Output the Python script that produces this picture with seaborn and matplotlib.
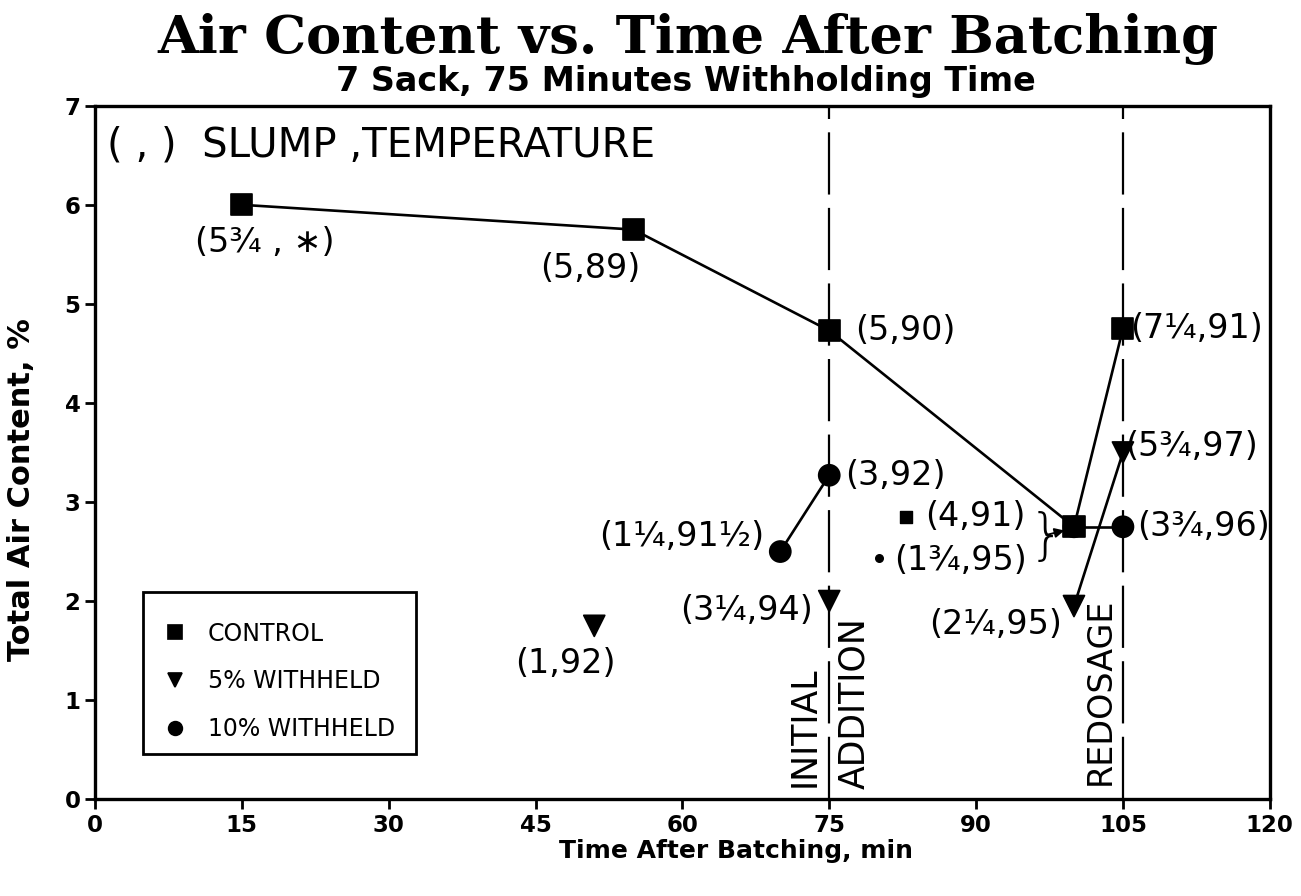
import matplotlib
matplotlib.use('AGG')

import matplotlib.pyplot as plt
import seaborn as sns
import pandas as pd
from matplotlib.patches import Rectangle

# air content readings (time in min, total air %)
time_ctrl = [15, 55, 75, 100, 105]
air_ctrl = [6.0, 5.75, 4.73, 2.75, 4.75]
seg_ctrl = [0, 0, 0, 0, 0]

time_5 = [51, 75, 100, 105]
air_5 = [1.75, 2.0, 1.95, 3.5]
seg_5 = [0, 1, 2, 2]

time_10 = [70, 75, 100, 105]
air_10 = [2.5, 3.27, 2.75, 2.75]
seg_10 = [0, 0, 1, 1]

# (slump, temperature) labels
lab_ctrl = ["(5\u00be , \u2217)", "(5,89)", "(5,90)", None, "(7\u00bc,91)"]
lab_5 = ["(1,92)", "(3\u00bc,94)", "(2\u00bc,95)", "(5\u00be,97)"]
lab_10 = ["(1\u00bc,91\u00bd)", "(3,92)", None, "(3\u00be,96)"]

groups = ["CONTROL", "5% WITHHELD", "10% WITHHELD"]

sns.set_theme(style='ticks')
plt.rcParams['font.family'] = ['DejaVu Sans']
plt.rcParams['text.color'] = 'black'
plt.rcParams['axes.labelcolor'] = 'black'
plt.rcParams['xtick.color'] = 'black'
plt.rcParams['ytick.color'] = 'black'

fig = plt.figure(figsize=(13.01, 8.96), dpi=100)
ax = fig.add_axes([0.073, 0.108, 0.903, 0.774])

df = pd.concat([
    pd.DataFrame({'t': time_ctrl, 'air': air_ctrl, 'seg': seg_ctrl, 'group': groups[0]}),
    pd.DataFrame({'t': time_5, 'air': air_5, 'seg': seg_5, 'group': groups[1]}),
    pd.DataFrame({'t': time_10, 'air': air_10, 'seg': seg_10, 'group': groups[2]}),
], ignore_index=True)
df['unit'] = df['group'] + df['seg'].astype(str)

# vertical dashed lines (initial addition, redosage)
for xv in [75, 105]:
    ax.axvline(xv, color='black', lw=1.6, dashes=(28, 6), zorder=1)

sns.lineplot(data=df, x='t', y='air', units='unit', estimator=None,
             color='black', lw=1.9, ax=ax, legend=False, zorder=2)

sns.scatterplot(data=df, x='t', y='air', style='group', style_order=groups,
                markers={groups[0]: 's', groups[1]: 'v', groups[2]: 'o'},
                edgecolor='black', s=230, ax=ax, zorder=3,
                hue='group', hue_order=groups, palette=['black'] * 3)

ax.set_xlim(0, 120)
ax.set_ylim(0, 7)
ax.set_xticks(range(0, 121, 15))
ax.set_yticks(range(0, 8))
for sp in ax.spines.values():
    sp.set_linewidth(2.4)
    sp.set_color('black')
    sp.set_visible(True)
ax.tick_params(direction='out', length=7, width=2, labelsize=16.5, color='black')
for lbl in ax.get_xticklabels() + ax.get_yticklabels():
    lbl.set_fontweight('bold')

ax.set_xlabel('Time After Batching, min', fontsize=18, fontweight='bold')
ax.set_ylabel('Total Air Content, %', fontsize=22, fontweight='bold')
ax.xaxis.set_label_coords(0.546, -0.058)
ax.yaxis.set_label_coords(-0.05, 0.446)

fig.text(0.529, 0.957, 'Air Content vs. Time After Batching', ha='center', va='center',
         fontsize=38, fontweight='bold', family='DejaVu Serif')
fig.text(0.527, 0.909, '7 Sack, 75 Minutes Withholding Time', ha='center', va='center',
         fontsize=24, fontweight='bold')

ax.text(1.2, 6.6, '( , )  SLUMP ,TEMPERATURE', fontsize=29, va='center', ha='left')

fs = 24
# label placement: (dx, dy, ha)
off_ctrl = [(-4.8, -0.38, 'left'), (-9.5, -0.39, 'left'), (2.6, 0.0, 'left'), None, (0.7, 0.0, 'left')]
off_5 = [(-8.1, -0.38, 'left'), (-1.7, -0.09, 'right'), (-1.2, -0.19, 'right'), (0.2, 0.06, 'left')]
off_10 = [(-1.6, 0.15, 'right'), (1.6, 0.0, 'left'), None, (1.5, 0.0, 'left')]
for xs, ys, labs, offs in [(time_ctrl, air_ctrl, lab_ctrl, off_ctrl),
                           (time_5, air_5, lab_5, off_5),
                           (time_10, air_10, lab_10, off_10)]:
    for x, y, lab, off in zip(xs, ys, labs, offs):
        if lab is None:
            continue
        ax.text(x + off[0], y + off[1], lab, fontsize=fs, ha=off[2], va='center')

# bracketed labels for the coincident points at 100 min
ax.scatter([82.8], [2.85], marker='s', s=70, color='black', zorder=3)
ax.scatter([80.1], [2.43], marker='o', s=30, color='black', zorder=3)
ax.text(84.8, 2.85, '(4,91)', fontsize=fs, ha='left', va='center')
ax.text(81.6, 2.41, '(1\u00be,95)', fontsize=fs, ha='left', va='center')
ax.text(95.4, 2.64, '}', fontsize=40, ha='left', va='center', fontweight='ultralight')
ax.annotate('', xy=(99.3, 2.72), xytext=(96.9, 2.66),
            arrowprops=dict(arrowstyle='-|>', color='black', lw=1.4, mutation_scale=14))

ax.text(72.5, 0.12, 'INITIAL', rotation=90, fontsize=25, ha='center', va='bottom')
ax.text(77.6, 0.1, 'ADDITION', rotation=90, fontsize=25, ha='center', va='bottom')
ax.text(102.7, 0.14, 'REDOSAGE', rotation=90, fontsize=24, ha='center', va='bottom')

# legend with a plain box drawn around it
ax.add_patch(Rectangle((0.041, 0.065), 0.232, 0.234, transform=ax.transAxes,
                       fill=True, facecolor='white', edgecolor='black', lw=2, zorder=4))
leg = ax.legend(loc='upper left', bbox_to_anchor=(0.058, 0.256), fontsize=17,
                frameon=False, borderpad=0, borderaxespad=0,
                labelspacing=1.0, handlelength=1.0, handletextpad=0.9, markerscale=0.65)
leg.set_zorder(5)

fig.savefig('out.png', dpi=100, facecolor='white')
